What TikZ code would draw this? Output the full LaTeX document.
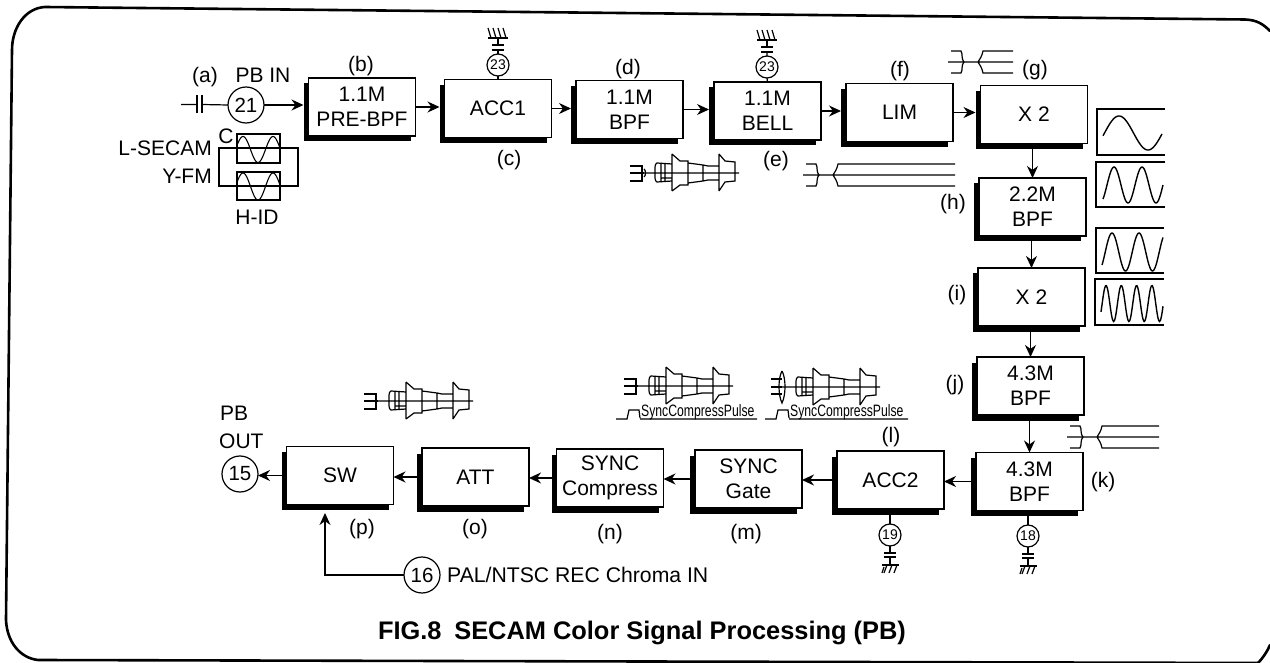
\documentclass[tikz,border=0pt]{standalone}
\usepackage{fontspec}
\setmainfont{Liberation Sans}
\usetikzlibrary{arrows.meta,shadows}
\newcommand{\fz}[1]{\fontsize{#1}{#1}\selectfont}
\tikzset{
  x=1pt,y=-1pt,
  lbl/.style={inner sep=0pt,font=\fontsize{21}{25}\selectfont},
  blk/.style={draw=black,line width=1.2pt,fill=white,minimum width=107pt,minimum height=58pt,inner sep=0pt,outer sep=0pt,align=center,
    font=\fontsize{21}{25}\selectfont,
    general shadow={fill=black,shadow xshift=-5pt,shadow yshift=-5.5pt}},
  bigc/.style={draw=black,line width=1.2pt,circle,minimum size=36pt,inner sep=0pt,outer sep=0pt,fill=white,font=\fontsize{20.5}{20}\selectfont},
  smallc/.style={draw=black,line width=1.2pt,circle,minimum size=22pt,inner sep=0pt,outer sep=0pt,fill=white,font=\fontsize{14}{14}\selectfont},
  conn/.style={line width=1.2pt,-{Stealth[length=12pt,width=11pt]}},
  wire/.style={line width=1.2pt},
  thin line/.style={line width=1.2pt},
  wave/.style={line width=1.4pt,smooth,samples=70},
  frame/.style={line width=2.6pt,line cap=round},
  pics/burstshape/.style={code={
    \draw[thin line] (25,-6) .. controls (25,-9) and (26,-9) .. (27,-10) -- (42,-9) (42,-19) -- (42,18)
      (42,-19) -- (50,-12) -- (58,-12) -- (58,-10) -- (73,-8) -- (73,8) -- (58,10) -- (58,-10)
      (42,18) -- (50,12) -- (58,12) -- (58,10)
      (73,-8) -- (78,-7) -- (89,-7) (73,8) -- (78,7) -- (89,7)
      (89,-19) -- (89,18) (89,-19) -- (95,-12) -- (105,-11) -- (105,8) -- (95,9) -- (89,18)
      (25,-6) -- (25,5) .. controls (25,8) and (26,8) .. (27,9) -- (42,8)
      (31,-9) -- (31,8) (35,-9) -- (35,8) (31,5) -- (42,5) (0,0) -- (109,0);
  }},
  pics/bracket/.style={code={
    \draw[thin line] (0,-8) -- (12,-8) -- (12,7) -- (0,7) (0,-1) -- (14,-1);
  }},
  pics/gndup/.style={code={
    \draw[thin line] (-6,0) -- (6,0) (-6,-5) -- (6,-5) (0,-5) -- (0,-11) (-10,-12) -- (10,-12);
    \foreach \q in {-7,-2,3,8}{\draw[thin line] (\q,-12) -- (\q-3,-22);}
  }},
  pics/gnddown/.style={code={
    \draw[thin line] (-6,0) -- (6,0) (-6,4) -- (6,4) (0,4) -- (0,12) (-8,12) -- (9,12);
    \foreach \q in {-3,2,7}{\draw[thin line] (\q,12) -- (\q-3,20);}
    \draw[thin line] (-6,14) -- (-8,20);
  }},
}
\newcommand{\trishape}[3]{%
  \draw[thin line] (#1,#2-11) -- (#1+10,#2-11) .. controls (#1+12,#2-8) and (#1+10,#2-3) .. (#1+13,#2) .. controls (#1+10,#2+3) and (#1+12,#2+8) .. (#1+10,#2+11) -- (#1,#2+11)
    (#1-3,#2) -- (#1+#3,#2)
    (#1+#3,#2-11) -- (#1+32,#2-11) .. controls (#1+31,#2-6) and (#1+29,#2-3) .. (#1+27,#2) .. controls (#1+29,#2+3) and (#1+31,#2+6) .. (#1+32,#2+11) -- (#1+#3,#2+11);}
\newcommand{\pulse}[2]{%
  \draw[thin line] (#1,419) -- (#1+11,419) -- (#1+13,410) -- (#1+23,410) -- (#1+24,418) (#1+24,419) -- (#2,419);
  \node[inner sep=0pt,anchor=base west] at (#1+25,416) {\scalebox{0.74}[1]{\fz{16.5}SyncCompressPulse}};}
\begin{document}
\begin{tikzpicture}
\useasboundingbox (0,0) rectangle (1270,663);
\fill[white] (0,0) rectangle (1270,663);
% frame
\draw[frame] (1270,31) .. controls (1263,24) and (1257,20) .. (1245,19.5) -- (45,7) .. controls (25,8) and (12,28) .. (12,50) -- (6,620) .. controls (7,642) and (20,658) .. (38,660) -- (1258,663);
\draw[frame] (1258,663) .. controls (1263,658) and (1268,650) .. (1270,645);
% blocks
\node[blk] (b) at (362,107) {1.1M\\PRE-BPF};
\node[blk] (c) at (498,108.5) {ACC1};
\node[blk] (d) at (629.5,109.5) {1.1M\\BPF};
\node[blk] (e) at (767.5,111) {1.1M\\BELL};
\node[blk] (f) at (899.5,112.5) {LIM};
\node[blk] (g) at (1034,114.5) {X 2};
\node[blk] (h) at (1032.5,207) {2.2M\\BPF};
\node[blk] (i) at (1031.5,297) {X 2};
\node[blk] (j) at (1030.5,386) {4.3M\\BPF};
\node[blk] (k) at (1029.5,481.5) {4.3M\\BPF};
\node[blk] (acc2) at (890.5,480) {ACC2};
\node[blk] (m) at (748.5,479) {SYNC\\Gate};
\node[blk] (n) at (610,478) {SYNC\\Compress};
\node[blk] (o) at (475.5,477) {ATT};
\node[blk] (p) at (340,475.5) {SW};
% circles
\node[bigc] (c21) at (246,105) {21};
\node[bigc] (c15) at (240,474) {15};
\node[bigc] (c16) at (422,575) {16};
\node[smallc] (s23a) at (498,65) {23};
\node[smallc] (s23b) at (767,67) {23};
\node[smallc] (s18) at (1028,536) {18};
\node[smallc] (s19) at (890,535) {19};
% input
\coordinate (in) at (181,104.5);
\coordinate (capa) at (197,104.5);
\coordinate (capb) at (202,104.5);
\draw[wire] (in) -- (capa) (capb) -- (c21.west);
\draw[line width=1.4pt] (197,95) -- (197,113) (202,95) -- (202,113);
\draw[conn,shorten >=5pt] (c21.east) -- (c21.east -| b.west);
% signal path
\draw[conn,shorten >=5pt] (b.east) -- (b.east -| c.west);
\draw[conn,shorten >=5pt] (c.east) -- (c.east -| d.west);
\draw[conn,shorten >=5pt] (d.east) -- (d.east -| e.west);
\draw[conn,shorten >=5pt] (e.east) -- (e.east -| f.west);
\draw[conn,shorten >=5pt] (f.east) -- (f.east -| g.west);
\draw[conn,shorten <=5pt] (h.north |- g.south) -- (h.north);
\draw[conn,shorten <=5pt] (i.north |- h.south) -- (i.north);
\draw[conn,shorten <=5pt] (j.north |- i.south) -- (j.north);
\draw[conn,shorten <=5pt] (k.north |- j.south) -- (k.north);
\draw[conn,shorten <=5pt] (k.west) -- (k.west -| acc2.east);
\draw[conn,shorten <=5pt] (acc2.west) -- (acc2.west -| m.east);
\draw[conn,shorten <=5pt] (m.west) -- (m.west -| n.east);
\draw[conn,shorten <=5pt] (n.west) -- (n.west -| o.east);
\draw[conn,shorten <=5pt] (o.west) -- (o.west -| p.east);
\draw[conn,shorten <=5pt] (p.west) -- (p.west -| c15.east);
\coordinate (swin) at (325,513);
\draw[conn] (c16.west) -| (swin);
% capacitors to ground
\coordinate (gc) at (498,50);
\coordinate (ge) at (767,52);
\coordinate (gk) at (1028,554);
\coordinate (ga) at (890,553);
\draw[wire] (s23a.south) -- (c.north) (s23a.north) -- (gc);
\draw[wire] (s23b.south) -- (e.north) (s23b.north) -- (ge);
\draw[wire] (k.south -| s18) -- (s18.north) (s18.south) -- (gk);
\draw[wire] (acc2.south -| s19) -- (s19.north) (s19.south) -- (ga);
\pic at (gc) {gndup};
\pic at (ge) {gndup};
\pic at (gk) {gnddown};
\pic at (ga) {gnddown};
% left waveform boxes
\draw[line width=1.2pt] (219,148) rectangle (298,186);
\draw[line width=1.2pt] (237,134) rectangle (280,163);
\draw[line width=1.2pt] (237,172) rectangle (280,200);
\draw[wave,line width=1.1pt] plot[domain=237:280] ({\x},{149.5-13*cos((\x-243)/30*360)});
\draw[wave,line width=1.1pt] plot[domain=237:280] ({\x},{186.5-13.5*cos((\x-243)/30*360)});
% right waveform boxes
\draw[line width=1.3pt] (1165,109) -- (1097,109) -- (1097,155) -- (1165,155);
\draw[line width=1.3pt] (1165,162) -- (1096,162) -- (1096,207) -- (1165,207);
\draw[line width=1.3pt] (1164,228) -- (1096,228) -- (1096,273) -- (1164,273);
\draw[line width=1.3pt] (1164,279) -- (1095,279) -- (1095,325) -- (1164,325);
\draw[wave] plot[domain=1103:1162] ({\x},{133-17*cos((\x-1119)/58*360)});
\draw[wave] plot[domain=1103:1163] ({\x},{185-18*cos((\x-1114)/28*360)});
\draw[wave] plot[domain=1102:1163] ({\x},{252-19*cos((\x-1112)/27*360)});
\draw[wave] plot[domain=1101:1163] ({\x},{303.5-18*cos((\x-1106)/15.3*360)});
% burst and line sketches
\pic at (630,173) {burstshape};
\pic at (630,174) {bracket};
\draw[thin line] (644,169) .. controls (646,170) and (646,176) .. (644,177);
\pic at (624,386) {burstshape};
\pic at (624,387) {bracket};
\pic at (364,401) {burstshape};
\pic at (364,402) {bracket};
\pic at (771,387) {burstshape};
\draw[thin line] (771,379) -- (782,379) (771,387) -- (782,387) (771,394) -- (782,394);
\draw[thin line] (782,371) .. controls (786,378) and (786,395) .. (782,403) .. controls (778,395) and (778,378) .. (782,371);
\pulse{616}{757}
\pulse{765}{908}
\trishape{806}{175}{149}
\trishape{951}{62}{62}
\trishape{1070}{437}{89}
% labels
\node[lbl] (la) at (205,77) {(a)};
\node[lbl] (lpb) at (263,75) {PB IN};
\node[lbl] (lb) at (361,66) {(b)};
\node[lbl] (lC) at (226,136) {C};
\node[lbl,anchor=east] (lsec) at (212,148) {L-SECAM};
\node[lbl,anchor=east] (lyfm) at (212,176) {Y-FM};
\node[lbl] (lhid) at (257,217) {H-ID};
\node[lbl] (lc) at (509,160) {(c)};
\node[lbl] (ld) at (628,69) {(d)};
\node[lbl] (le) at (776,161) {(e)};
\node[lbl] (lf) at (900,71) {(f)};
\node[lbl] (lg) at (1035,70) {(g)};
\node[lbl] (lh) at (953,204) {(h)};
\node[lbl] (li) at (957,295) {(i)};
\node[lbl] (lj) at (955,385) {(j)};
\node[lbl] (lk) at (1103,482) {(k)};
\node[lbl] (ll) at (891,437) {(l)};
\node[lbl] (lm) at (746,534) {(m)};
\node[lbl] (ln) at (610,534) {(n)};
\node[lbl] (lo) at (475,529) {(o)};
\node[lbl] (lp) at (362,529) {(p)};
\node[lbl,anchor=west] (lpb2) at (220,413) {PB};
\node[lbl,anchor=west] (lout) at (219,441) {OUT};
\node[lbl,anchor=west] (lpal) at (447,575) {\fz{21.2}PAL/NTSC REC Chroma IN};
\node[inner sep=0pt] (cap) at (642,633) {\fontsize{25.4}{26}\selectfont\bfseries FIG.8\enspace SECAM Color Signal Processing (PB)};
\end{tikzpicture}
\end{document}
